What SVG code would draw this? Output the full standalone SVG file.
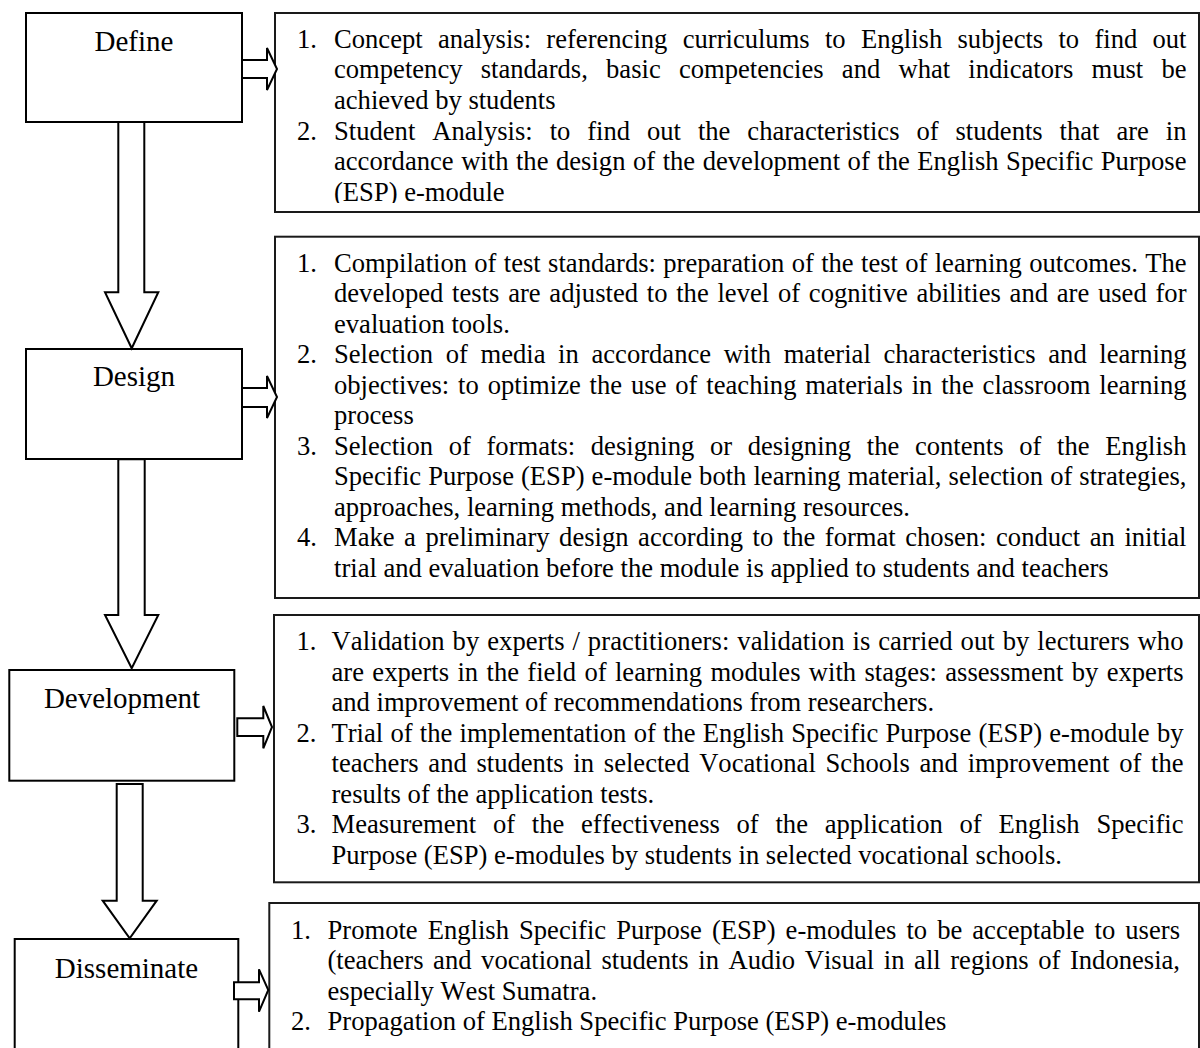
<svg xmlns="http://www.w3.org/2000/svg" width="1200" height="1048" viewBox="0 0 1200 1048">
<style>
  .box { fill: #ffffff; stroke: #000000; stroke-width: 2; }
  .tbox { fill: #ffffff; stroke: #1a1a1a; stroke-width: 2; }
  .arrow { fill: #ffffff; stroke: #000000; stroke-width: 2; stroke-linejoin: miter; }
  .label { font-family: "Liberation Serif", "Times New Roman", serif; font-size: 29px; fill: #000; text-anchor: middle; font-kerning: none; font-variant-ligatures: none; }
  .body { font-family: "Liberation Serif", "Times New Roman", serif; font-size: 26.6px; fill: #000; font-kerning: none; font-variant-ligatures: none; }
</style>
<defs>
  <clipPath id="clipDefine"><rect x="276" y="14" width="922" height="189"/></clipPath>
</defs>
<rect x="0" y="0" width="1200" height="1048" fill="#ffffff"/>

<g id="node-define">
  <rect class="box" x="26" y="13" width="216" height="109"/>
  <text class="label" x="134" y="51">Define</text>
</g>
<g id="node-define-detail">
  <rect class="tbox" x="275" y="13" width="924" height="199"/>
  <g clip-path="url(#clipDefine)">
    <text class="body" x="297" y="47.7">1.</text>
    <text class="body" x="334" y="47.7" word-spacing="8.61" textLength="852.5" lengthAdjust="spacing">Concept analysis: referencing curriculums to English subjects to find out</text>
    <text class="body" x="334" y="78.3" word-spacing="11.54" textLength="852.5" lengthAdjust="spacing">competency standards, basic competencies and what indicators must be</text>
    <text class="body" x="334" y="108.9">achieved by students</text>
    <text class="body" x="297" y="139.5">2.</text>
    <text class="body" x="334" y="139.5" word-spacing="10.26" textLength="852.5" lengthAdjust="spacing">Student Analysis: to find out the characteristics of students that are in</text>
    <text class="body" x="334" y="170.1" word-spacing="0.87" textLength="852.5" lengthAdjust="spacing">accordance with the design of the development of the English Specific Purpose</text>
    <text class="body" x="334" y="200.7">(ESP) e-module</text>
  </g>
</g>

<g id="node-design">
  <rect class="box" x="26" y="349" width="216" height="110"/>
  <text class="label" x="134" y="386">Design</text>
</g>
<g id="node-design-detail">
  <rect class="tbox" x="275" y="236.7" width="924" height="361.3"/>
  <text class="body" x="297" y="271.7">1.</text>
  <text class="body" x="334" y="271.7" word-spacing="0.66" textLength="852.5" lengthAdjust="spacing">Compilation of test standards: preparation of the test of learning outcomes. The</text>
  <text class="body" x="334" y="302.2" word-spacing="2.10" textLength="852.5" lengthAdjust="spacing">developed tests are adjusted to the level of cognitive abilities and are used for</text>
  <text class="body" x="334" y="332.7">evaluation tools.</text>
  <text class="body" x="297" y="363.2">2.</text>
  <text class="body" x="334" y="363.2" word-spacing="6.0" textLength="852.5" lengthAdjust="spacing">Selection of media in accordance with material characteristics and learning</text>
  <text class="body" x="334" y="393.7" word-spacing="2.21" textLength="852.5" lengthAdjust="spacing">objectives: to optimize the use of teaching materials in the classroom learning</text>
  <text class="body" x="334" y="424.2">process</text>
  <text class="body" x="297" y="454.7">3.</text>
  <text class="body" x="334" y="454.7" word-spacing="9.0" textLength="852.5" lengthAdjust="spacing">Selection of formats: designing or designing the contents of the English</text>
  <text class="body" x="334" y="485.2" word-spacing="0.4" textLength="852.5" lengthAdjust="spacing">Specific Purpose (ESP) e-module both learning material, selection of strategies,</text>
  <text class="body" x="334" y="515.7">approaches, learning methods, and learning resources.</text>
  <text class="body" x="297" y="546.2">4.</text>
  <text class="body" x="334" y="546.2" word-spacing="2.88" textLength="852.5" lengthAdjust="spacing">Make a preliminary design according to the format chosen: conduct an initial</text>
  <text class="body" x="334" y="576.7">trial and evaluation before the module is applied to students and teachers</text>
</g>

<g id="node-development">
  <rect class="box" x="9.3" y="670" width="225" height="110.7"/>
  <text class="label" x="122" y="708.3">Development</text>
</g>
<g id="node-development-detail">
  <rect class="tbox" x="274" y="615" width="925" height="267.3"/>
  <text class="body" x="296.5" y="650">1.</text>
  <text class="body" x="331.5" y="650" word-spacing="1.1" textLength="852" lengthAdjust="spacing">Validation by experts / practitioners: validation is carried out by lecturers who</text>
  <text class="body" x="331.5" y="680.5" word-spacing="1.72" textLength="852" lengthAdjust="spacing">are experts in the field of learning modules with stages: assessment by experts</text>
  <text class="body" x="331.5" y="711">and improvement of recommendations from researchers.</text>
  <text class="body" x="296.5" y="741.5">2.</text>
  <text class="body" x="331.5" y="741.5" word-spacing="0.59" textLength="852" lengthAdjust="spacing">Trial of the implementation of the English Specific Purpose (ESP) e-module by</text>
  <text class="body" x="331.5" y="772" word-spacing="3.1" textLength="852" lengthAdjust="spacing">teachers and students in selected Vocational Schools and improvement of the</text>
  <text class="body" x="331.5" y="802.5">results of the application tests.</text>
  <text class="body" x="296.5" y="833">3.</text>
  <text class="body" x="331.5" y="833" word-spacing="10.1" textLength="852" lengthAdjust="spacing">Measurement of the effectiveness of the application of English Specific</text>
  <text class="body" x="331.5" y="863.5">Purpose (ESP) e-modules by students in selected vocational schools.</text>
</g>

<g id="node-disseminate">
  <rect class="box" x="14.7" y="939" width="223.6" height="140"/>
  <text class="label" x="126.5" y="977.7">Disseminate</text>
</g>
<g id="node-disseminate-detail">
  <rect class="tbox" x="269.3" y="903" width="929.7" height="180"/>
  <text class="body" x="291" y="938.7">1.</text>
  <text class="body" x="327.5" y="938.7" word-spacing="3.39" textLength="852.5" lengthAdjust="spacing">Promote English Specific Purpose (ESP) e-modules to be acceptable to users</text>
  <text class="body" x="327.5" y="969.2" word-spacing="2.95" textLength="852.5" lengthAdjust="spacing">(teachers and vocational students in Audio Visual in all regions of Indonesia,</text>
  <text class="body" x="327.5" y="999.7">especially West Sumatra.</text>
  <text class="body" x="291" y="1030.2">2.</text>
  <text class="body" x="327.5" y="1030.2">Propagation of English Specific Purpose (ESP) e-modules</text>
</g>

<g id="connectors">
  <polygon class="arrow" points="242,60 267,60 267,48 277,69 267,90 267,78 242,78"/>
  <polygon class="arrow" points="242,388 267,388 267,376 277,397 267,418 267,407 242,407"/>
  <polygon class="arrow" points="237.3,718.3 263.3,718.3 263.3,706 272,727 263.3,748.3 263.3,736 237.3,736"/>
  <polygon class="arrow" points="234,982.3 259,982.3 259,969.3 268.3,990 259,1011.7 259,999.3 234,999.3"/>
  <polygon class="arrow" points="118.3,122 144.3,122 144.3,292.3 158.3,292.3 131.7,348.3 105,292.3 118.3,292.3"/>
  <polygon class="arrow" points="118.3,459.3 144.7,459.3 144.7,615 158.3,615 131.7,668.3 105,615 118.3,615"/>
  <polygon class="arrow" points="116.7,784 142.7,784 142.7,900.7 156.7,900.7 129.7,938.3 102.7,900.7 116.7,900.7"/>
</g>
</svg>
